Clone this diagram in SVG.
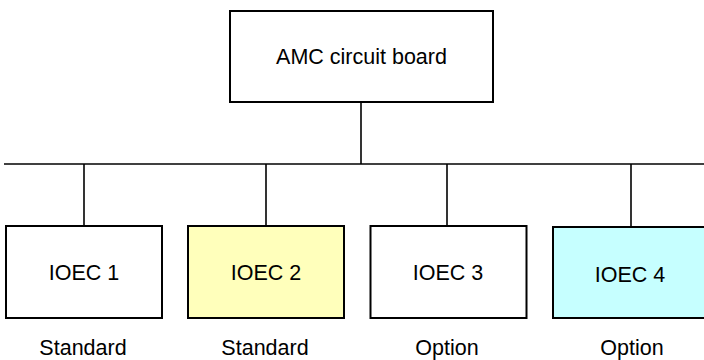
<svg xmlns="http://www.w3.org/2000/svg" width="704" height="360" viewBox="0 0 704 360">
<style>
.box{stroke:#000;stroke-width:2;}
.conn{stroke:#000;stroke-width:1.6;fill:none;}
text{font-family:"Liberation Sans",Arial,sans-serif;font-size:21.5px;fill:#000;text-anchor:middle;}
</style>
<rect x="0" y="0" width="704" height="360" fill="#fff"/>
<g id="connectors">
<line class="conn" x1="361" y1="102" x2="361" y2="164"/>
<line class="conn" x1="4" y1="164" x2="704" y2="164"/>
<line class="conn" x1="84" y1="164" x2="84" y2="226"/>
<line class="conn" x1="266" y1="164" x2="266" y2="226"/>
<line class="conn" x1="447" y1="164" x2="447" y2="226"/>
<line class="conn" x1="631" y1="164" x2="631" y2="227"/>
</g>
<g id="amc">
<rect class="box" x="230" y="11" width="263" height="91" fill="#fff"/>
<text x="361.5" y="64">AMC circuit board</text>
</g>
<g id="ioec1">
<rect class="box" x="6" y="226" width="156" height="92" fill="#fff"/>
<text x="84" y="280">IOEC 1</text>
<text x="83" y="355">Standard</text>
</g>
<g id="ioec2">
<rect class="box" x="188" y="226" width="156" height="92" fill="#FFFFBB"/>
<text x="266" y="280">IOEC 2</text>
<text x="265" y="355">Standard</text>
</g>
<g id="ioec3">
<rect class="box" x="370.5" y="226" width="156" height="92" fill="#fff"/>
<text x="448" y="280">IOEC 3</text>
<text x="447" y="355">Option</text>
</g>
<g id="ioec4">
<rect class="box" x="553" y="227" width="156" height="91" fill="#C6FFFF"/>
<text x="630" y="281.5">IOEC 4</text>
<text x="632" y="355">Option</text>
</g>
</svg>
